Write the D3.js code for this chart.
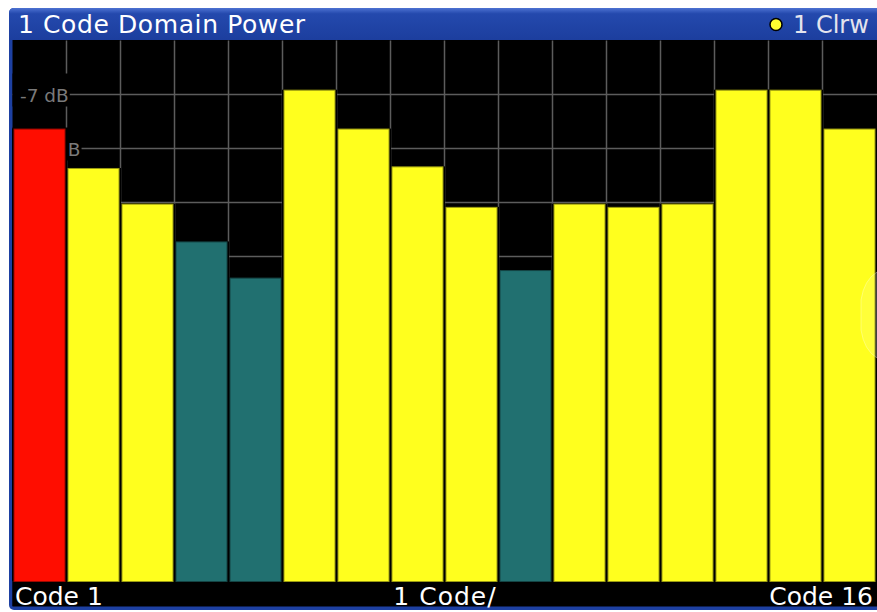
<!DOCTYPE html>
<html><head><meta charset="utf-8">
<script src="https://cdn.jsdelivr.net/npm/d3@7"></script>
<style>html,body{margin:0;padding:0;background:#fff;}svg{display:block;}</style>
</head><body>
<script>
// ---- data ----
const codes = ["1","2","3","4","5","6","7","8","9","10","11","12","13","14","15","16"];
const powerDb = [-13.4,-20.7,-27.3,-34.3,-41.0,-6.2,-13.4,-20.4,-27.9,-39.6,-27.3,-27.9,-27.3,-6.2,-6.2,-13.4];
const codeState = ["sel","act","act","inact","inact","act","act","act","act","inact","act","act","act","act","act","act"];
const yTickValues = [-7,-17];
const yTickLabels = ["-7 dB","-17 dB"];
const titleText = "1 Code Domain Power";
const traceText = "1 Clrw";
const xLabels = ["Code 1","1 Code/","Code 16"];

const W = 877, H = 612;
const L = 12.5, R = 876.5, T = 40.5, B = 580.5;
const colors = {sel:"#ff0d00", act:"#ffff1e", inact:"#217070"};

const svg = d3.select("body").append("svg").attr("width",W).attr("height",H);
const defs = svg.append("defs");
const g1 = defs.append("linearGradient").attr("id","tb").attr("x1",0).attr("y1",0).attr("x2",0).attr("y2",1);
g1.append("stop").attr("offset","0").attr("stop-color","#4d72d2");
g1.append("stop").attr("offset","0.18").attr("stop-color","#2449ad");
g1.append("stop").attr("offset","1").attr("stop-color","#1c3e9e");

// frame
svg.append("rect").attr("x",9).attr("y",8).attr("width",W-9+10).attr("height",H-8-2).attr("rx",5).attr("fill","#1d40a2");
svg.append("path").attr("d",`M9,40 L9,13 Q9,8 14,8 L${W},8 L${W},40 Z`).attr("fill","url(#tb)");
svg.append("rect").attr("x",L).attr("y",T-0.5).attr("width",W-L).attr("height",B-T+26).attr("fill","#000");

const x = d3.scaleBand().domain(codes).range([L,R]).paddingInner(0).paddingOuter(0);
const y = d3.scaleLinear().domain([-97,3]).range([B,T]);

// grid
const grid = svg.append("g").attr("stroke","#5c5c5c").attr("stroke-width",1.5);
d3.range(1,10).forEach(k=>{
  const v = 3-10*k;
  grid.append("line").attr("x1",L).attr("x2",W).attr("y1",y(v)).attr("y2",y(v));
});
codes.slice(1).forEach(c=>{
  grid.append("line").attr("x1",x(c)).attr("x2",x(c)).attr("y1",T).attr("y2",B);
});

// y labels with black background
const fnt = "DejaVu Sans, Verdana, sans-serif";
yTickValues.forEach((v,i)=>{
  const gy = y(v);
  const lg = svg.append("g");
  const bg = lg.append("rect");
  const t = lg.append("text").attr("x",20).attr("y",gy+7).attr("font-family",fnt)
    .attr("font-size",18.5).attr("fill","#7a7a7a").text(yTickLabels[i]);
  const bb = t.node().getBBox();
  bg.attr("x",L).attr("y",gy-21).attr("width",bb.x+bb.width+1-L).attr("height",33).attr("fill","#000");
});

// bars
const bw = x.bandwidth();
const bars = svg.append("g");
bars.selectAll("rect.bg").data(codes).join("rect").attr("class","bg")
  .attr("x",c=>x(c)-0.5)
  .attr("y",(c,i)=>y(powerDb[i])-0.5)
  .attr("width",bw+1)
  .attr("height",(c,i)=>B+1.5-y(powerDb[i]))
  .attr("fill","#000");
bars.selectAll("rect.bar").data(codes).join("rect").attr("class","bar")
  .attr("x",c=>x(c)+1.5)
  .attr("y",(c,i)=>y(powerDb[i]))
  .attr("width",bw-3)
  .attr("height",(c,i)=>B+1-y(powerDb[i]))
  .attr("fill",(c,i)=>colors[codeState[i]])
  .attr("stroke",(c,i)=>d3.color(colors[codeState[i]]).darker(1.4))
  .attr("stroke-width",1);

// bottom label bar
svg.append("rect").attr("x",L).attr("y",B+1.5).attr("width",W-L).attr("height",24.5).attr("fill","#000");
svg.append("text").attr("x",15).attr("y",605).attr("font-family",fnt).attr("font-size",25).attr("fill","#fff").text(xLabels[0]);
svg.append("text").attr("x",445).attr("y",605).attr("text-anchor","middle").attr("font-family",fnt).attr("font-size",25).attr("fill","#fff").attr("letter-spacing",1).text(xLabels[1]);
svg.append("text").attr("x",873).attr("y",605).attr("text-anchor","end").attr("font-family",fnt).attr("font-size",25).attr("fill","#fff").text(xLabels[2]);

// title
svg.append("text").attr("x",18).attr("y",33).attr("font-family",fnt).attr("font-size",25).attr("letter-spacing",0.6).attr("fill","#fff").text(titleText);
svg.append("circle").attr("cx",776).attr("cy",24.5).attr("r",6).attr("fill","#ffff30").attr("stroke","#000").attr("stroke-width",1.5);
svg.append("text").attr("x",793).attr("y",33).attr("font-family",fnt).attr("font-size",24).attr("fill","#e4e4ee").text(traceText);

// faint side handle
svg.append("path").attr("d","M877,272 Q864,280 861,300 L861,330 Q864,350 877,358 Z")
  .attr("fill","#ffffff").attr("fill-opacity",0.12).attr("stroke","#ffffff").attr("stroke-opacity",0.3);
</script>
</body></html>
